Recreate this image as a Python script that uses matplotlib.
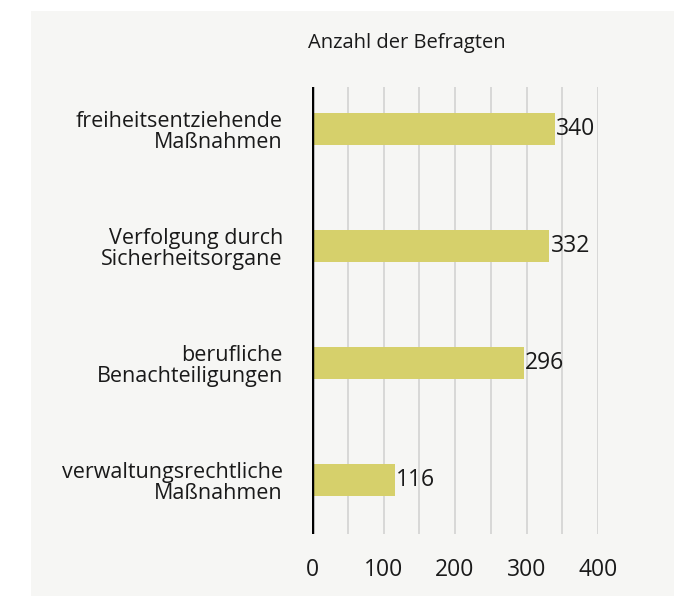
import numpy as np
import matplotlib.pyplot as plt
from matplotlib.patches import Rectangle

categories = [
    "freiheitsentziehende\nMaßnahmen",
    "Verfolgung durch\nSicherheitsorgane",
    "berufliche\nBenachteiligungen",
    "verwaltungsrechtliche\nMaßnahmen",
]
values = [340, 332, 296, 116]
x_ticks = [0, 100, 200, 300, 400]
title = "Anzahl der Befragten"

plt.rcParams["font.family"] = ["Open Sans", "DejaVu Sans"]

W, H = 678, 596
fig = plt.figure(figsize=(W / 100, H / 100), dpi=100)
fig.patch.set_facecolor("white")
fig.patches.append(Rectangle((31 / W, 0), (674 - 31) / W, 1 - 11 / H,
                             transform=fig.transFigure, facecolor="#f6f6f4",
                             edgecolor="none", zorder=-1))

ax = fig.add_axes([312 / W, 1 - 534 / H, (598 - 312) / W, (534 - 87) / H])
ax.set_facecolor("none")
ax.set_zorder(1)

y = np.arange(len(categories))
ax.barh(y, values, height=0.27, color="#d6d06b", zorder=2)
for yi, v in zip(y, values):
    ax.text(v + 1.5, yi, str(v), va="center", ha="left", fontsize=16.5,
            color="#1a1a1a", zorder=3)

ax.set_xlim(0, 400)
ax.set_ylim(3.46, -0.36)
for gx in np.arange(50, 401, 50):
    ax.axvline(gx, color="#d2d2d2", lw=1.2, zorder=1)
ax.axvline(0, color="black", lw=2.5, zorder=4)

ax.set_xticks(x_ticks)
ax.set_xticklabels([str(t) for t in x_ticks], fontsize=16.5, color="#1a1a1a")
ax.tick_params(axis="x", length=0, pad=17)
ax.set_yticks(y)
ax.set_yticklabels(categories, fontsize=15.5, color="#1a1a1a", ha="right",
                   linespacing=1.0)
ax.tick_params(axis="y", length=0, pad=21)
for s in ax.spines.values():
    s.set_visible(False)

fig.text(308 / W, 1 - 43 / H, title, fontsize=14.5, color="#1a1a1a",
         ha="left", va="center")

fig.savefig("out.png", dpi=100)
